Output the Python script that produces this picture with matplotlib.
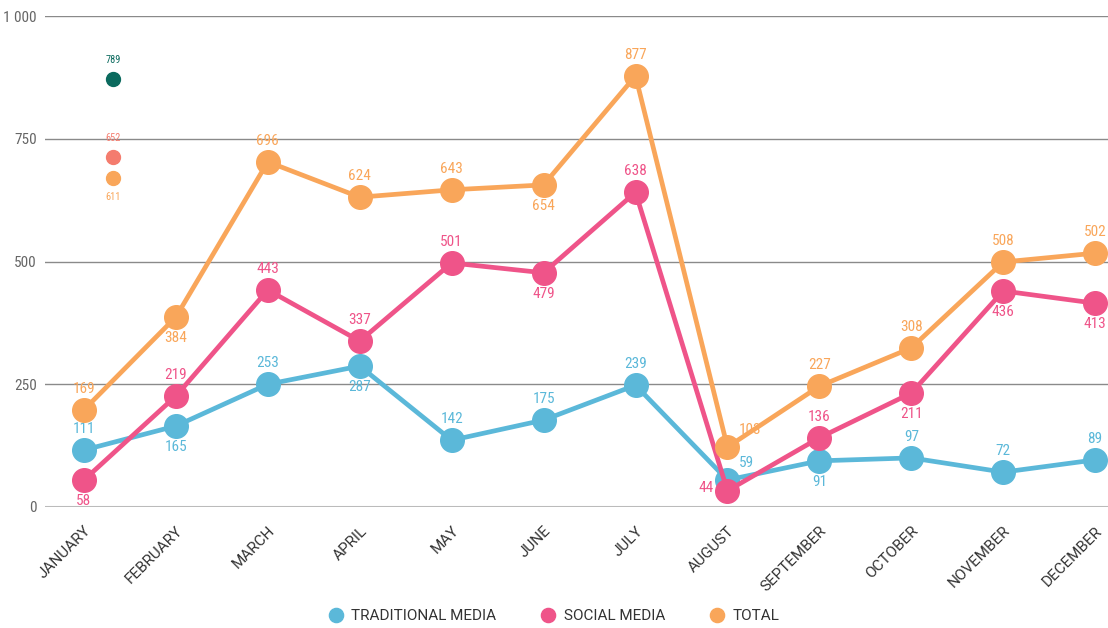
import matplotlib.pyplot as plt
from matplotlib import font_manager as fm
import numpy as np

months = ["JANUARY", "FEBRUARY", "MARCH", "APRIL", "MAY", "JUNE", "JULY",
          "AUGUST", "SEPTEMBER", "OCTOBER", "NOVEMBER", "DECEMBER"]

# plotted positions
traditional = [116, 165, 250, 287, 136, 177, 248, 55, 94, 100, 71, 96]
social = [55, 226, 442, 338, 497, 477, 641, 33, 141, 232, 440, 415]
total = [198, 387, 703, 631, 646, 656, 878, 122, 246, 324, 499, 517]

# printed labels
traditional_lbl = [111, 165, 253, 287, 142, 175, 239, 59, 91, 97, 72, 89]
social_lbl = [58, 219, 443, 337, 501, 479, 638, 44, 136, 211, 436, 413]
total_lbl = [169, 384, 696, 624, 643, 654, 877, 103, 227, 308, 508, 502]

# label side: 'a' above, 'b' below, 'l' left, 'r' upper right
traditional_pos = ['a', 'b', 'a', 'b', 'a', 'a', 'a', 'r', 'b', 'a', 'a', 'a']
social_pos = ['b', 'a', 'a', 'a', 'a', 'b', 'a', 'l', 'a', 'b', 'b', 'b']
total_pos = ['a', 'b', 'a', 'a', 'a', 'b', 'a', 'r', 'a', 'a', 'a', 'a']

# stray dots near january
extra_x = 0.32
extra_vals = [872, 713, 670]
extra_lbl = [789, 652, 611]
extra_pos = ['a', 'a', 'b']
extra_colors = ['#0B6A5E', '#F47C6E', '#F9A65A']

blue = '#5BB8D9'
pink = '#EF5489'
orange = '#F9A65A'

# look for a narrow face for the numbers
names = {f.name for f in fm.fontManager.ttflist}
narrow_props = dict(family=['DejaVu Sans'])
for cand in ['Liberation Sans Narrow', 'Roboto Condensed', 'Open Sans Condensed',
             'DejaVu Sans Condensed']:
    if cand in names:
        narrow_props = dict(family=[cand, 'DejaVu Sans'])
        break
else:
    cond = [f for f in fm.fontManager.ttflist
            if f.stretch in ('condensed', 'semi-condensed', 'extra-condensed', 'ultra-condensed')]
    if cond:
        narrow_props = dict(family=[cond[0].name, 'DejaVu Sans'], fontstretch=cond[0].stretch)

plt.rcParams['font.family'] = ['Roboto', 'DejaVu Sans']

fig = plt.figure(figsize=(11.08, 6.28), dpi=100)
ax = fig.add_axes([45 / 1108, 1 - 507 / 628, 1 - 45 / 1108, (507 - 16) / 628])

x = np.arange(len(months))

offs = {'a': (0, 10, 'center', 'bottom'), 'b': (0, -10, 'center', 'top'),
        'l': (-10, 2, 'right', 'center'), 'r': (8, 7, 'left', 'bottom')}


def labels(xs, ys, texts, pos, color, fs=11):
    for xi, yi, t, p in zip(xs, ys, texts, pos):
        dx, dy, ha, va = offs[p]
        ax.annotate(str(t), (xi, yi), xytext=(dx, dy), textcoords='offset points',
                    ha=ha, va=va, color=color, fontsize=fs, **narrow_props)


series = [(traditional, traditional_lbl, traditional_pos, blue, 'TRADITIONAL MEDIA'),
          (social, social_lbl, social_pos, pink, 'SOCIAL MEDIA'),
          (total, total_lbl, total_pos, orange, 'TOTAL')]

for vals, lbl, pos, col, name in series:
    ax.plot(x, vals, color=col, lw=3.4, marker='o', markersize=17,
            label=name, zorder=3, clip_on=False)
    labels(x, vals, lbl, pos, col)

for v, t, p, c in zip(extra_vals, extra_lbl, extra_pos, extra_colors):
    ax.plot([extra_x], [v], 'o', color=c, markersize=10, zorder=3)
    labels([extra_x], [v], [t], [p], c, fs=7.5)

ax.set_xlim(-0.424, 11.14)
ax.set_ylim(0, 1000)
ax.set_yticks([0, 250, 500, 750, 1000])
ax.set_yticklabels(['0', '250', '500', '750', '1 000'], fontsize=11,
                   color='#666666', **narrow_props)
ax.set_xticks(x)
ax.set_xticklabels(months, rotation=45, ha='right', rotation_mode='anchor',
                   fontsize=11, color='#333333')
ax.tick_params(length=0, pad=6)
ax.tick_params(axis='x', pad=12)
for s in ax.spines.values():
    s.set_visible(False)
for yv in [250, 500, 750, 1000]:
    ax.axhline(yv, color='#8a8a8a', lw=1, zorder=1)
ax.axhline(0, color='#bbbbbb', lw=1.5, zorder=1)

leg = ax.legend(loc='lower center', bbox_to_anchor=(0.5 - 22 / 1063, -0.265),
                ncol=3, frameon=False, fontsize=11, markerscale=0.6,
                handlelength=0.8, columnspacing=3.0, handletextpad=0.6)
for h in leg.legend_handles:
    h.set_linestyle('')
for t in leg.get_texts():
    t.set_color('#333333')

fig.savefig('out.png', dpi=100)
